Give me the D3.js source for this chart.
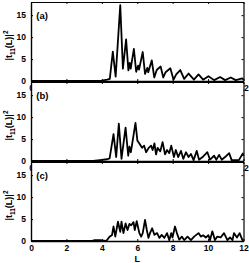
<!DOCTYPE html>
<html>
<head>
<meta charset="utf-8">
<script src="https://cdn.jsdelivr.net/npm/d3@7"></script>
<style>
  body { margin: 0; background: #fff; }
  text { font-family: "Liberation Sans", Arial, sans-serif; font-weight: bold; }
</style>
</head>
<body>
<div id="chart"></div>
<script>
// panel (a)
const lA = [0, 3.5, 4.0, 4.3, 4.45, 4.62, 4.78, 5.04, 5.19, 5.37, 5.5, 5.57, 5.63, 5.81, 5.94, 6.05, 6.1, 6.31, 6.44, 6.57, 6.62, 6.82, 6.96, 7.1, 7.32, 7.47, 7.6, 7.87, 8.05, 8.2, 8.43, 8.65, 8.9, 9.2, 9.46, 9.72, 10.02, 10.34, 10.68, 10.96, 11.28, 11.56, 11.93, 12];
const tA = [0, 0, 0.1, 0.3, 0.5, 6.7, 1.0, 17.3, 2.8, 9.5, 2.4, 4.1, 2.8, 7.3, 2.1, 3.5, 2.6, 6.6, 1.6, 3.0, 2.0, 4.7, 0.8, 2.5, 3.3, 0.8, 2.0, 2.9, 0.3, 1.5, 2.5, 0.5, 1.7, 0.3, 1.5, 0.3, 1.1, 0.2, 0.9, 0.2, 0.8, 0.2, 0.6, 0.3];

// panel (b)
const lB = [0, 3.5, 3.9, 4.3, 4.44, 4.66, 4.81, 4.96, 5.11, 5.34, 5.49, 5.56, 5.64, 5.9, 6.01, 6.12, 6.27, 6.39, 6.5, 6.65, 6.78, 6.87, 6.97, 7.06, 7.15, 7.3, 7.43, 7.57, 7.68, 7.81, 7.92, 8.07, 8.18, 8.31, 8.47, 8.6, 8.75, 8.9, 9.03, 9.18, 9.36, 9.49, 9.69, 9.96, 10.11, 10.34, 10.47, 10.62, 10.77, 10.96, 11.19, 11.33, 11.74, 11.96, 12];
const tB = [0, 0, 0.2, 0.4, 0.6, 6.1, 0.9, 8.5, 0.5, 7.6, 1.2, 3.3, 2.0, 8.7, 4.6, 4.0, 3.0, 3.5, 2.0, 3.0, 3.5, 2.5, 4.0, 1.5, 3.0, 2.2, 4.3, 1.5, 2.5, 1.8, 3.5, 0.9, 2.5, 0.9, 2.3, 0.5, 2.0, 0.9, 1.6, 0.2, 2.3, 0.3, 0.9, 2.0, 0.3, 1.2, 0.3, 1.4, 0.3, 0.9, 1.8, 0.2, 0.2, 1.7, 1.2];

// panel (c)
const lC = [0, 3.4, 3.6, 3.9, 4.1, 4.25, 4.44, 4.57, 4.66, 4.76, 4.91, 5.04, 5.11, 5.22, 5.34, 5.45, 5.56, 5.66, 5.79, 5.86, 5.97, 6.12, 6.22, 6.31, 6.44, 6.54, 6.63, 6.72, 6.84, 6.97, 7.12, 7.25, 7.38, 7.53, 7.68, 7.81, 7.92, 7.99, 8.13, 8.24, 8.37, 8.52, 8.65, 8.84, 9.03, 9.21, 9.46, 9.59, 9.72, 9.87, 10.02, 10.11, 10.24, 10.39, 10.52, 10.71, 10.9, 11.09, 11.24, 11.38, 11.46, 11.63, 11.78, 11.94, 12];
const tC = [0, 0, 0.2, 0.2, 0.1, 0, 1.0, 1.3, 3.3, 1.0, 4.4, 2.1, 4.4, 1.8, 4.0, 2.5, 3.9, 3.6, 4.3, 2.5, 4.5, 1.8, 1.0, 1.8, 4.8, 2.5, 0.7, 1.8, 2.9, 1.4, 1.8, 0.7, 1.4, 0.7, 1.8, 0.2, 1.8, 0.8, 3.3, 1.8, 0.3, 1.0, 0.2, 1.0, 0.2, 1.0, 1.8, 1.0, 1.3, 0.8, 1.3, 0.2, 2.2, 0.2, 1.0, 0.8, 1.8, 0.2, 0.8, 0.2, 1.8, 0.8, 1.8, 0.2, 0.3];

const panelNames = ["(a)", "(b)", "(c)"];
const xTicks = [0, 2, 4, 6, 8, 10, 12];
const yTicks = [0, 5, 10, 15];

//chart size
const width = 249;
const height = 263;
const left = 31, right = 243.5;
const panelTop = [2, 82, 162];
const panelH = 79;

const svg = d3.select("#chart")
  .append("svg")
  .attr("width", width)
  .attr("height", height);

const x = d3.scaleLinear().domain([0, 12]).range([left, right]);

const series = [[lA, tA], [lB, tB], [lC, tC]];

series.forEach(([ls, ts], i) => {
  const top = panelTop[i];
  const bottom = top + panelH;
  const y = d3.scaleLinear().domain([0, 18]).range([bottom, top]);
  const data = ls.map((l, j) => ({ l: l, t: ts[j] }));

  const g = svg.append("g");

  // white plot area, covers labels of the panel above
  g.append("rect")
    .attr("x", left).attr("y", top)
    .attr("width", right - left).attr("height", panelH)
    .attr("fill", "#fff");

  const line = d3.line()
    .x(d => x(d.l))
    .y(d => y(d.t));

  g.append("path")
    .datum(data)
    .attr("fill", "none")
    .attr("stroke", "#000")
    .attr("stroke-width", 1.8)
    .attr("stroke-linejoin", "round")
    .attr("d", line);

  // axes, ticks inward (matlab style)
  g.append("g")
    .attr("transform", `translate(0,${bottom})`)
    .call(d3.axisBottom(x).tickValues(xTicks).tickSizeInner(-2).tickSizeOuter(0).tickPadding(4))
    .call(a => a.select(".domain").attr("stroke-width", 1.4));

  g.append("g")
    .attr("transform", `translate(0,${top})`)
    .call(d3.axisTop(x).tickValues(xTicks).tickSizeInner(-2).tickSizeOuter(0).tickFormat(""))
    .call(a => a.select(".domain").attr("stroke-width", 1.2));

  g.append("g")
    .attr("transform", `translate(${left},0)`)
    .call(d3.axisLeft(y).tickValues(yTicks).tickSizeInner(-2).tickSizeOuter(0).tickPadding(5))
    .call(a => a.select(".domain").attr("stroke-width", 1.4));

  g.append("g")
    .attr("transform", `translate(${right},0)`)
    .call(d3.axisRight(y).tickValues(yTicks).tickSizeInner(-2).tickSizeOuter(0).tickFormat(""))
    .call(a => a.select(".domain").attr("stroke-width", 1.2));

  g.selectAll(".tick text")
    .attr("font-size", 8.5)
    .attr("font-family", "Liberation Sans, Arial, sans-serif")
    .attr("fill", "#000");

  // panel letter
  g.append("text")
    .attr("x", x(0.3))
    .attr("y", y(15) + 3.5)
    .attr("font-size", 9.5)
    .text(panelNames[i]);

  // y label
  const yl = g.append("text")
    .attr("transform", `translate(12,${(top + bottom) / 2 + 4}) rotate(-90)`)
    .attr("text-anchor", "middle")
    .attr("font-size", 9);
  yl.append("tspan").text("|t");
  yl.append("tspan").attr("font-size", 6.5).attr("dy", 2.5).text("11");
  yl.append("tspan").attr("dy", -2.5).text("(L)|");
  yl.append("tspan").attr("font-size", 6.5).attr("dy", -4).text("2");
});

// x label
svg.append("text")
  .attr("x", x(6))
  .attr("y", 262)
  .attr("text-anchor", "middle")
  .attr("font-size", 9)
  .text("L");
</script>
</body>
</html>
